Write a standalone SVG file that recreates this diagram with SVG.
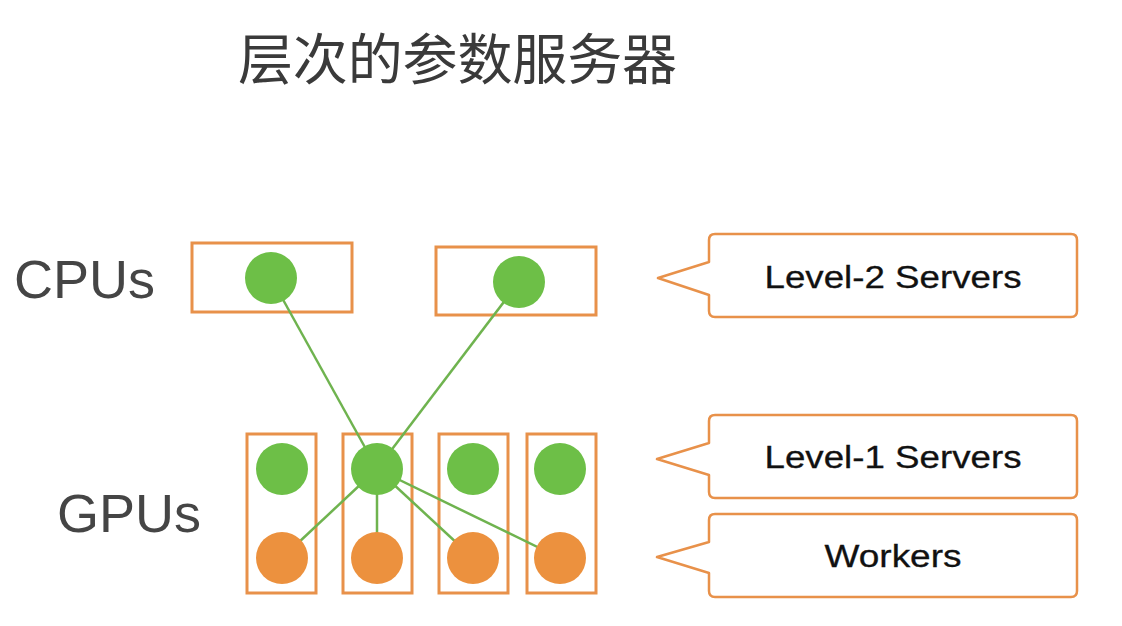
<svg xmlns="http://www.w3.org/2000/svg" width="1122" height="626" viewBox="0 0 1122 626">
<style>
.box{fill:#ffffff;stroke:#e8914a;stroke-width:3}
.call{fill:#ffffff;stroke:#e8914a;stroke-width:2.5;stroke-linejoin:round}
.srv{fill:#6dbf47}
.wrk{fill:#ec913e}
.link{stroke:#6fb34f;stroke-width:2.5;fill:none}
.lbl{font-family:"Liberation Sans",Arial,sans-serif;font-size:54px;fill:#454545}
.ctext{font-family:"Liberation Sans",Arial,sans-serif;font-size:31px;fill:#111111;text-anchor:middle;stroke:#111111;stroke-width:0.3}
.title{font-family:"Noto Sans CJK SC","Noto Sans",sans-serif;font-size:55px;fill:#3a3a3a}
</style>
<rect width="1122" height="626" fill="#ffffff"/>
<text class="title" x="238" y="79" textLength="439" lengthAdjust="spacing">层次的参数服务器</text>
<text class="lbl" x="14" y="298">CPUs</text>
<text class="lbl" x="57" y="532">GPUs</text>
<g id="cpu1"><rect class="box" x="192" y="243" width="160" height="69"/></g>
<g id="cpu2"><rect class="box" x="436" y="247" width="160" height="68"/></g>
<g id="gpu1"><rect class="box" x="247" y="434" width="69" height="159"/></g>
<g id="gpu2"><rect class="box" x="343" y="434" width="69" height="159"/></g>
<g id="gpu3"><rect class="box" x="439" y="434" width="69" height="159"/></g>
<g id="gpu4"><rect class="box" x="527" y="434" width="69" height="159"/></g>
<g id="connectors">
<line class="link" x1="271" y1="278" x2="377" y2="469"/>
<line class="link" x1="519" y1="282" x2="377" y2="469"/>
<line class="link" x1="377" y1="469" x2="282" y2="558"/>
<line class="link" x1="377" y1="469" x2="377" y2="558"/>
<line class="link" x1="377" y1="469" x2="473" y2="558"/>
<line class="link" x1="377" y1="469" x2="560" y2="558"/>
</g>
<g id="l2s1"><circle class="srv" cx="271" cy="278" r="26"/></g>
<g id="l2s2"><circle class="srv" cx="519" cy="282" r="26"/></g>
<g id="l1s1"><circle class="srv" cx="282" cy="469" r="26"/></g>
<g id="l1s2"><circle class="srv" cx="377" cy="469" r="26"/></g>
<g id="l1s3"><circle class="srv" cx="473" cy="469" r="26"/></g>
<g id="l1s4"><circle class="srv" cx="560" cy="469" r="26"/></g>
<g id="w1"><circle class="wrk" cx="282" cy="558" r="26"/></g>
<g id="w2"><circle class="wrk" cx="377" cy="558" r="26"/></g>
<g id="w3"><circle class="wrk" cx="473" cy="558" r="26"/></g>
<g id="w4"><circle class="wrk" cx="560" cy="558" r="26"/></g>
<g id="callout-l2">
<path class="call" d="M715 234 H1071 Q1077 234 1077 240 V311 Q1077 317 1071 317 H715 Q709 317 709 311 V295 L658 278 L709 262 V240 Q709 234 715 234 Z"/>
<text class="ctext" x="893" y="288" textLength="257" lengthAdjust="spacingAndGlyphs">Level-2 Servers</text>
</g>
<g id="callout-l1">
<path class="call" d="M715 415 H1071 Q1077 415 1077 421 V492 Q1077 498 1071 498 H715 Q709 498 709 492 V475 L657 459 L709 443 V421 Q709 415 715 415 Z"/>
<text class="ctext" x="893" y="468" textLength="257" lengthAdjust="spacingAndGlyphs">Level-1 Servers</text>
</g>
<g id="callout-w">
<path class="call" d="M715 514 H1071 Q1077 514 1077 520 V591 Q1077 597 1071 597 H715 Q709 597 709 591 V573 L657 557 L709 542 V520 Q709 514 715 514 Z"/>
<text class="ctext" x="893" y="567" textLength="137" lengthAdjust="spacingAndGlyphs">Workers</text>
</g>
</svg>
